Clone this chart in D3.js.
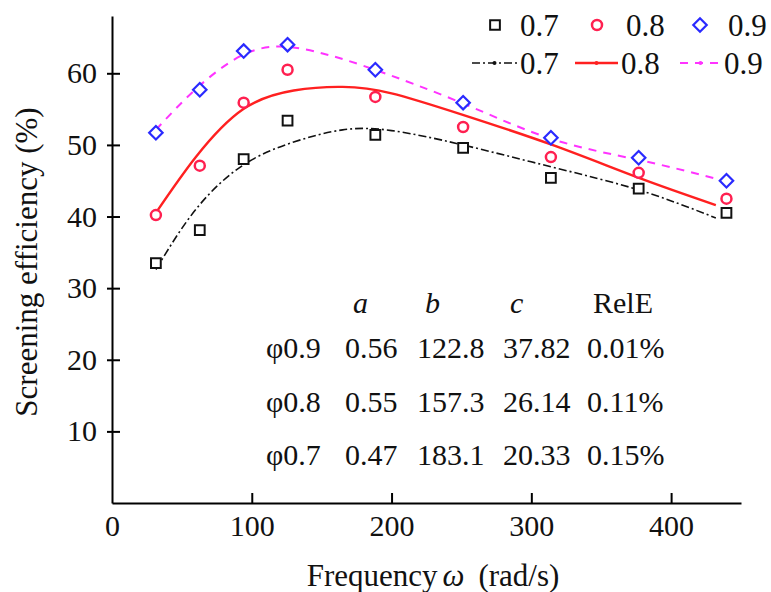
<!DOCTYPE html>
<html lang="en">
<head>
<meta charset="utf-8">
<title>Screening efficiency</title>
<script src="https://d3js.org/d3.v7.min.js"></script>
<style>
  body { margin: 0; background: #fff; }
  text { font-family: "Liberation Serif", "Times New Roman", serif; fill: #111; }
</style>
</head>
<body>
<script>
// measured points, rad/s
var freq = [31.4, 62.8, 94.2, 125.6, 188.4, 251.2, 314, 376.8, 439.6];
var eff07 = [33.5, 38.1, 48.0, 53.4, 51.4, 49.6, 45.4, 43.9, 40.5];
var eff08 = [40.2, 47.1, 55.9, 60.5, 56.7, 52.5, 48.3, 46.1, 42.5];
var eff09 = [51.7, 57.7, 63.1, 64.0, 60.5, 55.9, 51.0, 48.2, 45.0];

// fitted curves
var fit07x = [31.4, 60, 94, 130, 165, 200, 251, 315, 377, 432];
var fit07y = [32.6, 41.0, 47.2, 50.4, 52.1, 52.0, 50.0, 46.9, 43.7, 39.8];
var fit08x = [31.4, 60, 94, 130, 165, 200, 251, 315, 377, 432];
var fit08y = [40.5, 48.3, 55.0, 57.6, 58.1, 57.2, 54.2, 50.0, 45.4, 41.6];
var fit09x = [31.4, 60, 94, 125, 154, 188, 251, 315, 377, 432];
var fit09y = [52.1, 57.8, 62.6, 63.7, 62.6, 60.5, 55.8, 50.8, 47.9, 45.3];

var xTicks = [0, 100, 200, 300, 400];
var yTicks = [10, 20, 30, 40, 50, 60];

var tableHead = ["a", "b", "c", "RelE"];
var tablePhi = ["0.9", "0.8", "0.7"];
var tableA = ["0.56", "0.55", "0.47"];
var tableB = ["122.8", "157.3", "183.1"];
var tableC = ["37.82", "26.14", "20.33"];
var tableRel = ["0.01%", "0.11%", "0.15%"];

var width = 771, height = 592;
var svg = d3.select("body").append("svg")
    .attr("width", width)
    .attr("height", height);

var x = d3.scaleLinear().domain([0, 450]).range([112, 741]);
var y = d3.scaleLinear().domain([0, 68]).range([503, 16]);

// axes
var yAxis = svg.append("g")
    .attr("transform", "translate(" + x(0) + ",0)")
    .call(d3.axisLeft(y).tickValues(yTicks).tickSizeOuter(0).tickSizeInner(0).tickPadding(15));
yAxis.selectAll(".tick line").attr("x1", -5).attr("x2", 8).attr("stroke-width", 2);
yAxis.selectAll(".tick text").attr("font-size", 30).attr("fill", "#111");
yAxis.select(".domain").attr("stroke-width", 2);

var xAxis = svg.append("g")
    .attr("transform", "translate(0," + y(0) + ")")
    .call(d3.axisBottom(x).tickValues(xTicks).tickSizeOuter(0).tickSizeInner(0));
xAxis.selectAll(".tick line").attr("y2", function(d) { return d === 0 ? 0 : -10; }).attr("stroke-width", 2);
xAxis.selectAll(".tick text").attr("y", 33).attr("dy", 0).attr("font-size", 30).attr("fill", "#111");
xAxis.select(".domain").attr("stroke-width", 2);

svg.append("text")
    .attr("transform", "translate(37,262) rotate(-90)")
    .attr("text-anchor", "middle")
    .attr("font-size", 31)
    .text("Screening efficiency (%)");

var xt = svg.append("text")
    .attr("x", 433).attr("y", 586)
    .attr("text-anchor", "middle")
    .attr("font-size", 31);
xt.append("tspan").text("Frequency");
xt.append("tspan").attr("dx", 5).attr("font-style", "italic").text("ω");
xt.append("tspan").attr("dx", 14).text("(rad/s)");

// fitted lines
var line = d3.line().curve(d3.curveNatural);
function pts(xs, ys) { return xs.map(function(v, i) { return [x(v), y(ys[i])]; }); }

var fits = [
  { p: pts(fit07x, fit07y), color: "#111", w: 1.6, dash: "8,3,2,3" },
  { p: pts(fit08x, fit08y), color: "#ff2020", w: 2.4, dash: null },
  { p: pts(fit09x, fit09y), color: "#ff33ff", w: 2, dash: "8,7" }
];
fits.forEach(function(f) {
  svg.append("path")
      .attr("d", line(f.p))
      .attr("fill", "none")
      .attr("stroke", f.color)
      .attr("stroke-width", f.w)
      .attr("stroke-dasharray", f.dash);
});

// markers
var sym07 = d3.symbol().type(d3.symbolSquare).size(95);
var sym09 = d3.symbol().type(d3.symbolDiamond2).size(115);

svg.append("g").selectAll("path").data(eff07).enter().append("path")
    .attr("transform", function(d, i) { return "translate(" + x(freq[i]) + "," + y(d) + ")"; })
    .attr("d", sym07).attr("fill", "#fff").attr("stroke", "#111").attr("stroke-width", 2);

svg.append("g").selectAll("circle").data(eff08).enter().append("circle")
    .attr("cx", function(d, i) { return x(freq[i]); })
    .attr("cy", function(d) { return y(d); })
    .attr("r", 5).attr("fill", "#fff").attr("stroke", "#ff2050").attr("stroke-width", 2.5);

svg.append("g").selectAll("path").data(eff09).enter().append("path")
    .attr("transform", function(d, i) { return "translate(" + x(freq[i]) + "," + y(d) + ")"; })
    .attr("d", sym09).attr("fill", "#fff").attr("stroke", "#2a2aff").attr("stroke-width", 2.2);

// legend
var leg = svg.append("g");
var labels = ["0.7", "0.8", "0.9"];
var lx = [495, 597, 700];
leg.append("path").attr("transform", "translate(" + lx[0] + ",25)").attr("d", sym07)
    .attr("fill", "#fff").attr("stroke", "#111").attr("stroke-width", 2);
leg.append("circle").attr("cx", lx[1]).attr("cy", 25).attr("r", 5)
    .attr("fill", "#fff").attr("stroke", "#ff2050").attr("stroke-width", 2.5);
leg.append("path").attr("transform", "translate(" + lx[2] + ",25)").attr("d", sym09)
    .attr("fill", "#fff").attr("stroke", "#2a2aff").attr("stroke-width", 2.2);
[520, 626, 728].forEach(function(tx, i) {
  leg.append("text").attr("x", tx).attr("y", 25).attr("dy", "0.35em").attr("font-size", 31).text(labels[i]);
});
var l2 = [[472, 517], [575, 618], [680, 721]];
fits.forEach(function(f, i) {
  leg.append("line").attr("x1", l2[i][0]).attr("x2", l2[i][1]).attr("y1", 63).attr("y2", 63)
      .attr("stroke", f.color).attr("stroke-width", f.w).attr("stroke-dasharray", f.dash);
  leg.append("circle").attr("cx", (l2[i][0] + l2[i][1]) / 2).attr("cy", 63).attr("r", 2).attr("fill", f.color);
  leg.append("text").attr("x", l2[i][1] + 3).attr("y", 63).attr("dy", "0.35em").attr("font-size", 31).text(labels[i]);
});

// parameter table
var tbl = svg.append("g").attr("font-size", 30);
var colX = [345, 417, 503, 587];
var headX = [353, 425, 510, 593];
tableHead.forEach(function(h, i) {
  tbl.append("text").attr("x", headX[i]).attr("y", 313)
      .attr("font-style", i < 3 ? "italic" : "normal").text(h);
});
var rowY = [358, 412, 465];
tablePhi.forEach(function(p, r) {
  tbl.append("text").attr("x", 266).attr("y", rowY[r]).text("φ" + p);
  [tableA, tableB, tableC, tableRel].forEach(function(col, c) {
    tbl.append("text").attr("x", colX[c]).attr("y", rowY[r]).text(col[r]);
  });
});
</script>
</body>
</html>
